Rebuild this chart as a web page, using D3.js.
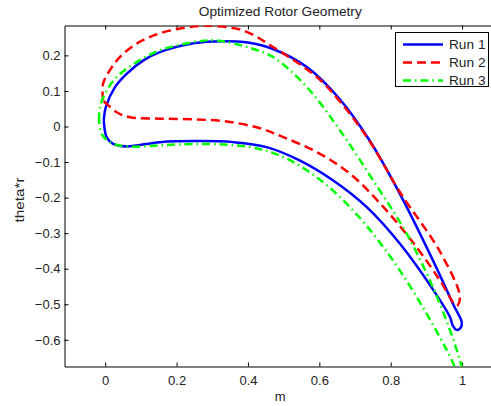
<!DOCTYPE html>
<html>
<head>
<meta charset="utf-8">
<script src="https://cdn.jsdelivr.net/npm/d3@7"></script>
<style>
  html, body { margin: 0; padding: 0; background: #fff; }
  svg { display: block; font-family: "Liberation Sans", Arial, Helvetica, sans-serif; }
</style>
</head>
<body>
<svg id="chart" width="491" height="406"></svg>
<script>
// Blade profiles: [m, theta*r] pairs, upper surface from leading edge to trailing edge, then lower surface back.
const run1 = [
  [-0.004, 0.017], [0.002, 0.055], [0.027, 0.110], [0.060, 0.148], [0.107, 0.186],
  [0.153, 0.209], [0.247, 0.234], [0.330, 0.240], [0.400, 0.236], [0.470, 0.218],
  [0.565, 0.167], [0.658, 0.076], [0.740, -0.038], [0.826, -0.190], [0.920, -0.380],
  [0.976, -0.502], [0.999, -0.550], [0.996, -0.566], [0.985, -0.572], [0.974, -0.560],
  [0.966, -0.536], [0.920, -0.461], [0.826, -0.330], [0.733, -0.227], [0.639, -0.152],
  [0.546, -0.096], [0.452, -0.058], [0.359, -0.044], [0.265, -0.041], [0.153, -0.044],
  [0.060, -0.056], [0.022, -0.049], [0.004, -0.030], [-0.004, 0.017]
];
const run2 = [
  [-0.006, 0.073], [-0.006, 0.120], [0.013, 0.158], [0.041, 0.195], [0.088, 0.233],
  [0.153, 0.262], [0.247, 0.281], [0.300, 0.283], [0.387, 0.270], [0.471, 0.223],
  [0.593, 0.139], [0.658, 0.070], [0.740, -0.040], [0.826, -0.185], [0.938, -0.352],
  [0.994, -0.480], [0.985, -0.504], [0.938, -0.433], [0.873, -0.340], [0.780, -0.227],
  [0.686, -0.133], [0.593, -0.072], [0.499, -0.030], [0.434, -0.005], [0.340, 0.014],
  [0.247, 0.020], [0.153, 0.022], [0.069, 0.026], [0.032, 0.040], [0.004, 0.064],
  [-0.006, 0.073]
];
const run3 = [
  [-0.017, 0.017], [-0.015, 0.054], [0.004, 0.101], [0.032, 0.139], [0.088, 0.181],
  [0.153, 0.214], [0.247, 0.237], [0.312, 0.242], [0.415, 0.218], [0.471, 0.195],
  [0.565, 0.111], [0.658, -0.011], [0.751, -0.152], [0.845, -0.302], [0.930, -0.480],
  [0.994, -0.658], [1.002, -0.700], [0.990, -0.712], [0.976, -0.668], [0.873, -0.480],
  [0.780, -0.340], [0.686, -0.227], [0.593, -0.143], [0.499, -0.086], [0.406, -0.058],
  [0.265, -0.049], [0.153, -0.053], [0.060, -0.056], [0.013, -0.044], [-0.010, -0.021],
  [-0.017, 0.017]
];
const seriesNames = ["Run 1", "Run 2", "Run 3"];
const xTicks = [0, 0.2, 0.4, 0.6, 0.8, 1];
const yTicks = [-0.6, -0.5, -0.4, -0.3, -0.2, -0.1, 0, 0.1, 0.2];

const styles = [
  { color: "#0000ff", dash: null },
  { color: "#ff0000", dash: "9,5" },
  { color: "#00ff00", dash: "8,4,1.5,4" }
];

const svg = d3.select("#chart");
const L = 64.5, T = 25.5, R = 496, B = 366.5;
const fontSize = 13;

// Equal data aspect ratio on both axes
const x = d3.scaleLinear().domain([-0.114, 1.095]).range([L, R]);
const y = d3.scaleLinear().domain([-0.675, 0.284]).range([B, T]);

svg.append("defs").append("clipPath").attr("id", "plotclip")
  .append("rect").attr("x", L).attr("y", T).attr("width", R - L).attr("height", B - T);

const fmt = d => (d === 0 ? "0" : (d < 0 ? "\u2212" : "") + String(Math.abs(d)));

// Axes (ticks pointing inward, mirrored on top)
const tickLen = 4;
const xBottom = d3.axisBottom(x).tickValues(xTicks).tickSizeInner(-tickLen).tickSizeOuter(0).tickPadding(9).tickFormat(fmt);
const xTop = d3.axisTop(x).tickValues(xTicks).tickSizeInner(-tickLen).tickSizeOuter(0).tickFormat("");
const yLeft = d3.axisLeft(y).tickValues(yTicks).tickSizeInner(-tickLen).tickSizeOuter(0).tickPadding(4).tickFormat(fmt);

const gx = svg.append("g").attr("transform", `translate(0,${B})`).call(xBottom);
const gxt = svg.append("g").attr("transform", `translate(0,${T})`).call(xTop);
const gy = svg.append("g").attr("transform", `translate(${L},0)`).call(yLeft);
[gx, gxt, gy].forEach(g => {
  g.selectAll(".domain").attr("stroke", "#000").attr("stroke-width", 1);
  g.selectAll(".tick line").attr("stroke", "#000").attr("stroke-width", 1);
  g.selectAll(".tick text").attr("font-size", fontSize).attr("fill", "#222")
    .attr("font-family", "Liberation Sans, Arial, sans-serif");
});

// Curves
const line = d3.line().x(d => x(d[0])).y(d => y(d[1])).curve(d3.curveCatmullRom.alpha(0.5));
const plot = svg.append("g").attr("clip-path", "url(#plotclip)");
[run1, run2, run3].forEach((data, i) => {
  plot.append("path").datum(data)
    .attr("d", line)
    .attr("fill", "none")
    .attr("stroke", styles[i].color)
    .attr("stroke-width", 2.5)
    .attr("stroke-linejoin", "round")
    .attr("stroke-dasharray", styles[i].dash);
});

// Title and axis labels
svg.append("text").attr("x", (L + R) / 2).attr("y", 16).attr("text-anchor", "middle")
  .attr("font-size", fontSize).attr("fill", "#222")
  .attr("textLength", 163).attr("lengthAdjust", "spacingAndGlyphs")
  .text("Optimized Rotor Geometry");
svg.append("text").attr("x", (L + R) / 2).attr("y", 401).attr("text-anchor", "middle")
  .attr("font-size", fontSize).attr("fill", "#222").text("m");
svg.append("text").attr("transform", `translate(24,${(T + B) / 2 + 4}) rotate(-90)`)
  .attr("text-anchor", "middle").attr("font-size", fontSize).attr("fill", "#222")
  .attr("textLength", 45).attr("lengthAdjust", "spacingAndGlyphs")
  .text("theta*r");

// Legend
const lg = svg.append("g");
lg.append("rect").attr("x", 395.5).attr("y", 32.5).attr("width", 93).attr("height", 54)
  .attr("fill", "#fff").attr("stroke", "#000").attr("stroke-width", 1);
seriesNames.forEach((name, i) => {
  const yy = 44.5 + i * 18;
  lg.append("line").attr("x1", 403).attr("x2", 443).attr("y1", yy).attr("y2", yy)
    .attr("stroke", styles[i].color).attr("stroke-width", 2.5)
    .attr("stroke-dasharray", styles[i].dash);
  lg.append("text").attr("x", 449).attr("y", yy + 4.3).attr("font-size", fontSize).attr("fill", "#222")
    .attr("textLength", 36.5).attr("lengthAdjust", "spacingAndGlyphs")
    .text(name);
});
</script>
</body>
</html>
